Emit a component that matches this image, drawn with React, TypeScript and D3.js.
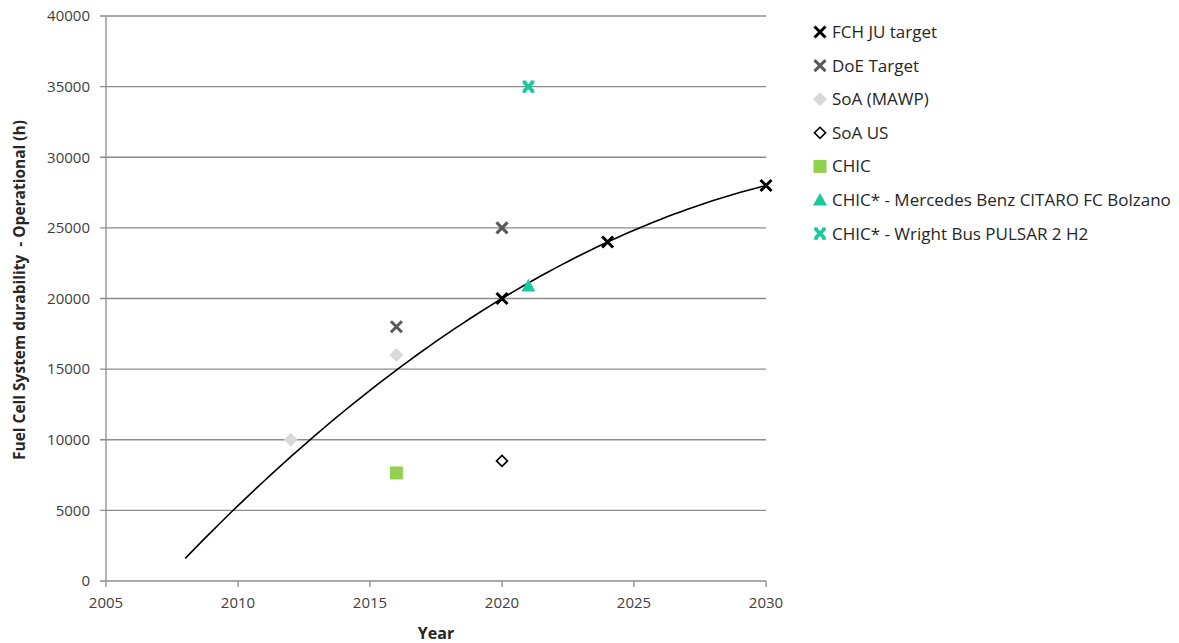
import React from "react";
import * as d3 from "d3";

const W = 1179;
const H = 643;

const xTicks = [2005, 2010, 2015, 2020, 2025, 2030];
const yTicks = [0, 5000, 10000, 15000, 20000, 25000, 30000, 35000, 40000];

const fchYears = [2020, 2024, 2030];
const fchValues = [20000, 24000, 28000];
const doeYears = [2016, 2020];
const doeValues = [18000, 25000];
const soaMawpYears = [2012, 2016];
const soaMawpValues = [10000, 16000];
const soaUsYears = [2020];
const soaUsValues = [8500];
const chicYears = [2016];
const chicValues = [7650];
const mercedesYears = [2021];
const mercedesValues = [20900];
const wrightYears = [2021];
const wrightValues = [35000];

const trendStart = 2008;
const trendEnd = 2030;

const legendLabels = [
  "FCH JU target",
  "DoE Target",
  "SoA (MAWP)",
  "SoA US",
  "CHIC",
  "CHIC* - Mercedes Benz CITARO FC Bolzano",
  "CHIC* - Wright Bus PULSAR 2 H2",
];

const TEAL = "#1cc99c";

// quadratic least-squares fit (Excel polynomial trendline, order 2)
function polyFit2(xs: number[], ys: number[]) {
  const x0 = 2020;
  const n = xs.length;
  let s1 = 0, s2 = 0, s3 = 0, s4 = 0, t0 = 0, t1 = 0, t2 = 0;
  for (let i = 0; i < n; i++) {
    const x = xs[i] - x0;
    const y = ys[i];
    s1 += x; s2 += x * x; s3 += x * x * x; s4 += x * x * x * x;
    t0 += y; t1 += x * y; t2 += x * x * y;
  }
  const M = [
    [n, s1, s2, t0],
    [s1, s2, s3, t1],
    [s2, s3, s4, t2],
  ];
  for (let i = 0; i < 3; i++) {
    let p = i;
    for (let r = i + 1; r < 3; r++) if (Math.abs(M[r][i]) > Math.abs(M[p][i])) p = r;
    [M[i], M[p]] = [M[p], M[i]];
    for (let r = 0; r < 3; r++) {
      if (r === i) continue;
      const f = M[r][i] / M[i][i];
      for (let c = i; c < 4; c++) M[r][c] -= f * M[i][c];
    }
  }
  const a = M[0][3] / M[0][0];
  const b = M[1][3] / M[1][1];
  const c = M[2][3] / M[2][2];
  return (x: number) => {
    const t = x - x0;
    return a + b * t + c * t * t;
  };
}

function XMark({ cx, cy, s, color, w }: { cx: number; cy: number; s: number; color: string; w: number }) {
  return (
    <path
      d={`M${cx - s},${cy - s}L${cx + s},${cy + s}M${cx - s},${cy + s}L${cx + s},${cy - s}`}
      stroke={color}
      strokeWidth={w}
      fill="none"
    />
  );
}

function StarMark({ cx, cy, color }: { cx: number; cy: number; color: string }) {
  const s = 4.5;
  return (
    <g>
      <path
        d={`M${cx - s},${cy - s}L${cx + s},${cy + s}M${cx - s},${cy + s}L${cx + s},${cy - s}`}
        stroke={color}
        strokeWidth={3.6}
        fill="none"
      />
      <path
        d={`M${cx - 6},${cy - 5}H${cx - 2}M${cx + 2},${cy - 5}H${cx + 6}M${cx - 6},${cy + 5}H${cx - 2}M${cx + 2},${cy + 5}H${cx + 6}`}
        stroke={color}
        strokeWidth={2.2}
        fill="none"
      />
    </g>
  );
}

function Diamond({ cx, cy, r, fill, stroke, sw }: { cx: number; cy: number; r: number; fill: string; stroke?: string; sw?: number }) {
  return (
    <path
      d={`M${cx},${cy - r}L${cx + r},${cy}L${cx},${cy + r}L${cx - r},${cy}Z`}
      fill={fill}
      stroke={stroke || "none"}
      strokeWidth={sw || 0}
    />
  );
}

function Triangle({ cx, cy, r, fill }: { cx: number; cy: number; r: number; fill: string }) {
  return <path d={`M${cx},${cy - r}L${cx + r},${cy + r * 0.8}L${cx - r},${cy + r * 0.8}Z`} fill={fill} />;
}

function Square({ cx, cy, r, fill }: { cx: number; cy: number; r: number; fill: string }) {
  return <rect x={cx - r} y={cy - r} width={2 * r} height={2 * r} fill={fill} />;
}

const markerFns: ((cx: number, cy: number, key: string) => React.ReactNode)[] = [
  (cx, cy, k) => <XMark key={k} cx={cx} cy={cy} s={5.5} color="#000" w={3} />,
  (cx, cy, k) => <XMark key={k} cx={cx} cy={cy} s={5.5} color="#595959" w={3} />,
  (cx, cy, k) => <Diamond key={k} cx={cx} cy={cy} r={7} fill="#d9d9d9" />,
  (cx, cy, k) => <Diamond key={k} cx={cx} cy={cy} r={5.5} fill="#fff" stroke="#000" sw={1.6} />,
  (cx, cy, k) => <Square key={k} cx={cx} cy={cy} r={6.5} fill="#92d050" />,
  (cx, cy, k) => <Triangle key={k} cx={cx} cy={cy} r={7} fill={TEAL} />,
  (cx, cy, k) => <StarMark key={k} cx={cx} cy={cy} color={TEAL} />,
];

export default function App() {
  const left = 106, right = 766, top = 16, bottom = 581;
  const x = d3.scaleLinear().domain([2005, 2030]).range([left, right]);
  const y = d3.scaleLinear().domain([0, 40000]).range([bottom, top]);

  const series = [
    { xs: fchYears, ys: fchValues },
    { xs: doeYears, ys: doeValues },
    { xs: soaMawpYears, ys: soaMawpValues },
    { xs: soaUsYears, ys: soaUsValues },
    { xs: chicYears, ys: chicValues },
    { xs: mercedesYears, ys: mercedesValues },
    { xs: wrightYears, ys: wrightValues },
  ];

  const trend = polyFit2(fchYears, fchValues);
  const trendXs = d3.range(trendStart, trendEnd + 0.001, 0.25);
  const line = d3
    .line<number>()
    .x((d) => x(d))
    .y((d) => y(trend(d)))
    .curve(d3.curveMonotoneX);

  const font = "'Open Sans', sans-serif";
  const gridColor = "#8c8c8c";

  const legendX = 820;
  const legendY0 = 32;
  const legendStep = 33.6;

  return (
    <svg
      width={W}
      height={H}
      style={{ position: "absolute", left: 0, top: 0, background: "#fff" }}
      fontFamily={font}
    >
      <rect width={W} height={H} fill="#fff" />
      {/* gridlines */}
      {yTicks.map((t) => (
        <line key={"g" + t} x1={left - 6} x2={right} y1={y(t)} y2={y(t)} stroke={gridColor} strokeWidth={1.3} />
      ))}
      {/* y axis */}
      <line x1={left} x2={left} y1={top} y2={bottom} stroke={gridColor} strokeWidth={1.3} />
      {/* x ticks */}
      {xTicks.map((t) => (
        <line key={"xt" + t} x1={x(t)} x2={x(t)} y1={bottom} y2={bottom + 6} stroke={gridColor} strokeWidth={1.3} />
      ))}
      {/* y tick labels */}
      {yTicks.map((t) => (
        <text key={"yl" + t} x={left - 16} y={y(t)} dy="0.35em" textAnchor="end" fontSize={15} fill="#404040">
          {t}
        </text>
      ))}
      {/* x tick labels */}
      {xTicks.map((t) => (
        <text key={"xl" + t} x={x(t)} y={bottom + 22} dy="0.35em" textAnchor="middle" fontSize={15} fill="#404040">
          {t}
        </text>
      ))}
      {/* axis titles */}
      <text x={(left + right) / 2} y={633} dy="0.35em" textAnchor="middle" fontSize={16} fontWeight="bold" fill="#262626">
        Year
      </text>
      <text
        transform={`translate(20,290) rotate(-90)`}
        dy="0.35em"
        textAnchor="middle"
        fontSize={15.5}
        fontWeight="bold"
        fill="#262626"
        xmlSpace="preserve"
      >
        Fuel Cell System durability  - Operational (h)
      </text>
      {/* trendline */}
      <path d={line(trendXs) || ""} fill="none" stroke="#000" strokeWidth={1.6} />
      {/* markers: draw in order */}
      {series.map((s, i) => (
        <g key={"s" + i}>{s.xs.map((xv, j) => markerFns[i](x(xv), y(s.ys[j]), `m${i}-${j}`))}</g>
      ))}
      {/* legend */}
      {legendLabels.map((lab, i) => {
        const cy = legendY0 + i * legendStep;
        return (
          <g key={"l" + i}>
            {markerFns[i](legendX, cy, "lm" + i)}
            <text x={832} y={cy} dy="0.35em" fontSize={17} fill="#262626">
              {lab}
            </text>
          </g>
        );
      })}
    </svg>
  );
}
